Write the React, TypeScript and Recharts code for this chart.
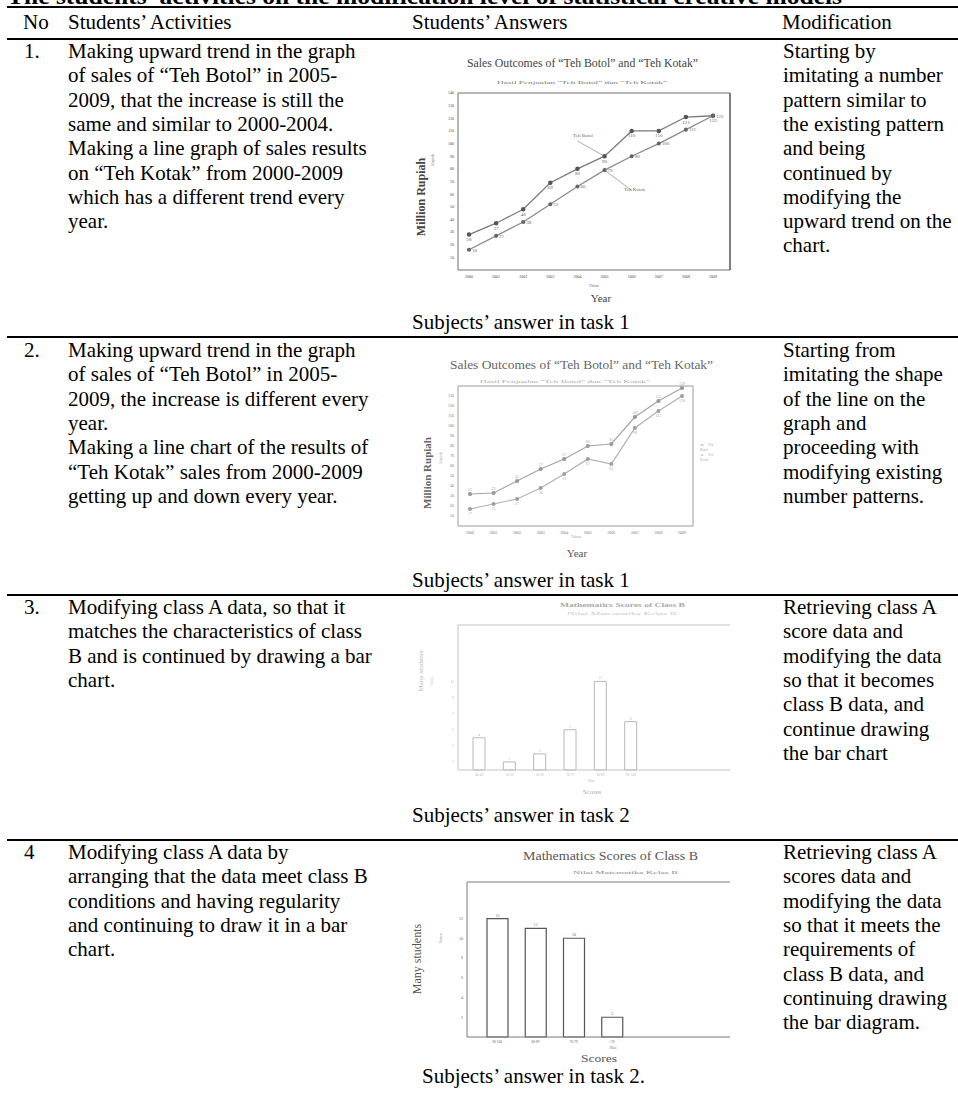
import React from "react";
import { LineChart, Line, BarChart, Bar, XAxis, YAxis, LabelList, Legend, ReferenceLine } from "recharts";

const years = ["2000", "2001", "2002", "2003", "2004", "2005", "2006", "2007", "2008", "2009"];
const task1Botol = [28, 37, 48, 69, 80, 90, 110, 110, 121, 122];
const task1Kotak = [16, 27, 38, 52, 66, 79, 90, 100, 111, 122];
const task2Botol = [32, 33, 45, 57, 67, 80, 82, 109, 125, 138];
const task2Kotak = [17, 22, 27, 38, 52, 67, 62, 98, 115, 130];
const salesTicks1 = [10, 20, 30, 40, 50, 60, 70, 80, 90, 100, 110, 120, 130, 140];
const salesTicks2 = [10, 20, 30, 40, 50, 60, 70, 80, 90, 100, 110, 120, 130];

const scoreRanges3 = ["40-49", "50-59", "60-69", "70-79", "80-89", "90-100"];
const classBCounts3 = [4, 1, 2, 5, 11, 6];
const countTicks3 = [0, 1, 2, 3, 4, 5, 6, 7, 8, 9, 10, 11];

const scoreRanges4 = ["90-100", "80-89", "70-79", "<70"];
const classBCounts4 = [12, 11, 10, 2];
const countTicks4 = [1, 2, 3, 4, 5, 6, 7, 8, 9, 10, 11, 12];

const headers = ["No", "Students’ Activities", "Students’ Answers", "Modification"];
const rowNumbers = ["1.", "2.", "3.", "4"];
const activities = [
  [
    "Making upward trend in the graph",
    "of sales of “Teh Botol” in 2005-",
    "2009, that the increase is still the",
    "same and similar to 2000-2004.",
    "Making a line graph of sales results",
    "on “Teh Kotak” from 2000-2009",
    "which has a different trend every",
    "year.",
  ],
  [
    "Making upward trend in the graph",
    "of sales of “Teh Botol” in 2005-",
    "2009, the increase is different every",
    "year.",
    "Making a line chart of the results of",
    "“Teh Kotak” sales from 2000-2009",
    "getting up and down every year.",
  ],
  [
    "Modifying class A data, so that it",
    "matches the characteristics of class",
    "B and is continued by drawing a bar",
    "chart.",
  ],
  [
    "Modifying class A data by",
    "arranging that the data meet class B",
    "conditions and having regularity",
    "and continuing to draw it in a bar",
    "chart.",
  ],
];
const modifications = [
  [
    "Starting by",
    "imitating a number",
    "pattern similar to",
    "the existing pattern",
    "and being",
    "continued by",
    "modifying the",
    "upward trend on the",
    "chart.",
  ],
  [
    "Starting from",
    "imitating the shape",
    "of the line on the",
    "graph and",
    "proceeding with",
    "modifying existing",
    "number patterns.",
  ],
  [
    "Retrieving class A",
    "score data and",
    "modifying the data",
    "so that it becomes",
    "class B data, and",
    "continue drawing",
    "the bar chart",
  ],
  [
    "Retrieving class A",
    "scores data and",
    "modifying the data",
    "so that it meets the",
    "requirements of",
    "class B data, and",
    "continuing drawing",
    "the bar diagram.",
  ],
];
const captions = [
  "Subjects’ answer in task 1",
  "Subjects’ answer in task 1",
  "Subjects’ answer in task 2",
  "Subjects’ answer in task 2.",
];

const SERIF = '"Liberation Serif", "Times New Roman", serif';

const sales1 = years.map((year, i) => ({ year, botol: task1Botol[i], kotak: task1Kotak[i] }));
const sales2 = years.map((year, i) => ({ year, botol: task2Botol[i], kotak: task2Kotak[i] }));
const scores3 = scoreRanges3.map((range, i) => ({ range, count: classBCounts3[i] }));
const scores4 = scoreRanges4.map((range, i) => ({ range, count: classBCounts4[i] }));

function SalesChart1() {
  const c = "#6e6e6e";
  return (
    <div style={{ position: "absolute", left: 405, top: 48 }}>
      <LineChart width={338} height={258} data={sales1} margin={{ top: 44, right: 12, bottom: 28, left: 45 }}>
        <XAxis dataKey="year" padding={{ left: 11, right: 17 }} interval={0} height={8} tickSize={3}
          tick={{ fontSize: 4, fill: "#444" }} tickLine={false} axisLine={{ stroke: c }} />
        <XAxis xAxisId="top" dataKey="year" orientation="top" height={1} tick={false} tickLine={false}
          axisLine={{ stroke: c }} />
        <YAxis domain={[0, 140]} ticks={salesTicks1} width={8} tickSize={2} tickLine={false}
          tick={{ fontSize: 4, fill: "#444" }} axisLine={{ stroke: c }} />
        <YAxis yAxisId="right" orientation="right" width={1} tick={false} tickLine={false}
          axisLine={{ stroke: "#555", strokeWidth: 1.5 }} />
        <ReferenceLine segment={[{ x: "2004", y: 102 }, { x: "2005", y: 90 }]} stroke="#888" strokeWidth={0.7} />
        <ReferenceLine segment={[{ x: "2005", y: 79 }, { x: "2006", y: 63 }]} stroke="#888" strokeWidth={0.7} />
        <Line dataKey="botol" stroke="#7a7a7a" strokeWidth={1.3} isAnimationActive={false}
          dot={{ r: 1.6, fill: "#555", stroke: "#555" }}>
          <LabelList dataKey="botol" position="bottom" offset={3} fontSize={5} fill="#666" />
        </Line>
        <Line dataKey="kotak" stroke="#8a8a8a" strokeWidth={1.3} isAnimationActive={false}
          dot={{ r: 1.4, fill: "#666", stroke: "#666" }}>
          <LabelList dataKey="kotak" position="right" offset={3} fontSize={5} fill="#666" />
        </Line>
      </LineChart>
    </div>
  );
}

function SalesChart2() {
  const c = "#9a9a9a";
  return (
    <div style={{ position: "absolute", left: 410, top: 341 }}>
      <LineChart width={320} height={230} data={sales2} margin={{ top: 44, right: 36, bottom: 37, left: 40 }}>
        <XAxis dataKey="year" padding={{ left: 12, right: 11 }} interval={0} height={8} tickSize={3}
          tick={{ fontSize: 4, fill: "#777" }} tickLine={false} axisLine={{ stroke: c }} />
        <XAxis xAxisId="top" dataKey="year" orientation="top" height={1} tick={false} tickLine={false}
          axisLine={{ stroke: c }} />
        <YAxis domain={[0, 140]} ticks={salesTicks2} width={8} tickSize={2} tickLine={false}
          tick={{ fontSize: 4, fill: "#777" }} axisLine={{ stroke: c }} />
        <YAxis yAxisId="right" orientation="right" width={1} tick={false} tickLine={false}
          axisLine={{ stroke: c }} />
        <Legend layout="vertical" align="center" verticalAlign="middle" iconSize={4}
          wrapperStyle={{ position: "absolute", left: 290, top: 102, width: 30, fontSize: 3.5, lineHeight: "5px" }} />
        <Line name="Teh Botol" dataKey="botol" stroke="#a5a5a5" strokeWidth={1.2} isAnimationActive={false}
          dot={{ r: 1.5, fill: "#999", stroke: "#999" }}>
          <LabelList dataKey="botol" position="top" offset={3} fontSize={4} fill="#aaa" />
        </Line>
        <Line name="Teh Kotak" dataKey="kotak" stroke="#b0b0b0" strokeWidth={1.2} isAnimationActive={false}
          dot={{ r: 1.4, fill: "#a0a0a0", stroke: "#a0a0a0" }}>
          <LabelList dataKey="kotak" position="bottom" offset={3} fontSize={4} fill="#aaa" />
        </Line>
      </LineChart>
    </div>
  );
}

function ScoresChart3() {
  const c = "#c4c4c4";
  return (
    <div style={{ position: "absolute", left: 405, top: 598, width: 325, overflow: "hidden" }}>
      <BarChart width={325} height={205} data={scores3} margin={{ top: 26, right: 0, bottom: 25, left: 45 }}>
        <XAxis dataKey="range" padding={{ left: 6, right: 84 }} interval={0} height={8} tickSize={2}
          tick={{ fontSize: 3.5, fill: "#bbb" }} tickLine={false} axisLine={{ stroke: c }} />
        <XAxis xAxisId="top" dataKey="range" orientation="top" height={1} tick={false} tickLine={false}
          axisLine={{ stroke: c }} padding={{ left: 6, right: 84 }} />
        <YAxis domain={[0, 18]} ticks={countTicks3} width={8} tickSize={2} tickLine={false}
          tick={{ fontSize: 4, fill: "#bbb" }} axisLine={{ stroke: c }} />
        <Bar dataKey="count" barSize={12} fill="#ffffff" stroke="#b8b8b8" strokeWidth={1} isAnimationActive={false}>
          <LabelList dataKey="count" position="top" offset={2} fontSize={4} fill="#bbb" />
        </Bar>
      </BarChart>
    </div>
  );
}

function ScoresChart4() {
  const c = "#7a7a7a";
  return (
    <div style={{ position: "absolute", left: 405, top: 848, width: 325, overflow: "hidden" }}>
      <BarChart width={325} height={220} data={scores4} margin={{ top: 33, right: 0, bottom: 23, left: 54 }}>
        <XAxis dataKey="range" padding={{ left: 11, right: 99 }} interval={0} height={8} tickSize={2}
          tick={{ fontSize: 3.5, fill: "#666" }} tickLine={false} axisLine={{ stroke: c }} />
        <XAxis xAxisId="top" dataKey="range" orientation="top" height={1} tick={false} tickLine={false}
          axisLine={{ stroke: c }} padding={{ left: 11, right: 99 }} />
        <YAxis domain={[0, 15.7]} ticks={countTicks4} width={8} tickSize={2} tickLine={false}
          tick={{ fontSize: 4, fill: "#666" }} axisLine={{ stroke: c }} />
        <Bar dataKey="count" barSize={21} fill="#ffffff" stroke="#555" strokeWidth={1.2} isAnimationActive={false}>
          <LabelList dataKey="count" position="top" offset={2} fontSize={4} fill="#666" />
        </Bar>
      </BarChart>
    </div>
  );
}

const rowTop = [58, 357, 614, 859];
const captionBaseline = [329, 587, 822, 1083];
const captionX = [412, 412, 412, 422];
const rules = [6, 38, 336, 594, 839];
const LH = 24.3;

function TableText() {
  return (
    <svg width={958} height={1102} style={{ position: "absolute", left: 0, top: 0, pointerEvents: "none" }}
      fontFamily={SERIF}>
      <text x={7} y={4} fontSize={23} fontWeight="bold" fill="#000" textLength={835} lengthAdjust="spacingAndGlyphs">
        The students’ activities on the modification level of statistical creative models
      </text>
      {rules.map((y) => (
        <rect key={y} x={7} y={y} width={951} height={2} fill="#000" />
      ))}
      {headers.map((h, i) => (
        <text key={h} x={[23, 68, 412, 782][i]} y={29} fontSize={21} fill="#000">{h}</text>
      ))}
      {rowNumbers.map((n, r) => (
        <g key={n}>
          <text x={24} y={rowTop[r]} fontSize={21}>{n}</text>
          {activities[r].map((line, i) => (
            <text key={i} x={68} y={rowTop[r] + i * LH} fontSize={21}>{line}</text>
          ))}
          {modifications[r].map((line, i) => (
            <text key={i} x={783} y={rowTop[r] + i * LH} fontSize={21}>{line}</text>
          ))}
          <text x={captionX[r]} y={captionBaseline[r]} fontSize={21}>{captions[r]}</text>
        </g>
      ))}

      {/* task 1 chart texts */}
      <text x={467} y={67} fontSize={12} textLength={231} lengthAdjust="spacingAndGlyphs" fill="#444">
        Sales Outcomes of “Teh Botol” and “Teh Kotak”
      </text>
      <text x={497} y={84} fontSize={4.5} textLength={170} lengthAdjust="spacingAndGlyphs" fill="#777">
        Hasil Penjualan “Teh Botol” dan “Teh Kotak”
      </text>
      <text transform="translate(425,197) rotate(-90)" textAnchor="middle" fontSize={12} fontWeight="bold"
        fill="#444">Million Rupiah</text>
      <text transform="translate(434,160) rotate(-90)" textAnchor="middle" fontSize={4} fill="#777">Rupiah</text>
      <text x={573} y={137} fontSize={5} fill="#666">Teh Botol</text>
      <text x={624} y={191} fontSize={5} fill="#666">Teh Kotak</text>
      <text x={594} y={287} textAnchor="middle" fontSize={4} fill="#777">Tahun</text>
      <text x={601} y={302} textAnchor="middle" fontSize={11} fill="#444">Year</text>

      {/* task 1 (second answer) chart texts */}
      <text x={450} y={369} fontSize={12} textLength={263} lengthAdjust="spacingAndGlyphs" fill="#666">
        Sales Outcomes of “Teh Botol” and “Teh Kotak”
      </text>
      <text x={480} y={383} fontSize={4.5} textLength={170} lengthAdjust="spacingAndGlyphs" fill="#aaa">
        Hasil Penjualan “Teh Botol” dan “Teh Kotak”
      </text>
      <text transform="translate(431,473) rotate(-90)" textAnchor="middle" fontSize={11} fontWeight="bold"
        fill="#666">Million Rupiah</text>
      <text transform="translate(442,458) rotate(-90)" textAnchor="middle" fontSize={4} fill="#aaa">Rupiah</text>
      <text x={576} y={538} textAnchor="middle" fontSize={4} fill="#aaa">Tahun</text>
      <text x={577} y={557} textAnchor="middle" fontSize={11} fill="#555">Year</text>

      {/* task 2 chart texts */}
      <text x={560} y={607} fontSize={7} fontWeight="bold" textLength={125} lengthAdjust="spacingAndGlyphs"
        fill="#a8a8a8">Mathematics Scores of Class B</text>
      <text x={567} y={615} fontSize={3.5} textLength={110} lengthAdjust="spacingAndGlyphs" fill="#c8c8c8">
        Nilai Matematika Kelas B
      </text>
      <text transform="translate(423,671) rotate(-90)" textAnchor="middle" fontSize={7} fill="#b5b5b5">
        Many students
      </text>
      <text transform="translate(433,681) rotate(-90)" textAnchor="middle" fontSize={3.5} fill="#c0c0c0">Siswa</text>
      <text x={591} y={782} textAnchor="middle" fontSize={3.5} fill="#bbb">Nilai</text>
      <text x={592} y={794} textAnchor="middle" fontSize={7} fill="#aaa">Scores</text>

      {/* task 2 (second answer) chart texts */}
      <text x={523} y={860} fontSize={13} textLength={175} lengthAdjust="spacingAndGlyphs" fill="#555">
        Mathematics Scores of Class B
      </text>
      <text x={573} y={874} fontSize={4} textLength={105} lengthAdjust="spacingAndGlyphs" fill="#888">
        Nilai Matematika Kelas B
      </text>
      <text transform="translate(421,959) rotate(-90)" textAnchor="middle" fontSize={12} fill="#555">
        Many students
      </text>
      <text transform="translate(442,938) rotate(-90)" textAnchor="middle" fontSize={4} fill="#777">Siswa</text>
      <text x={613} y={1049} textAnchor="middle" fontSize={3.5} fill="#777">Nilai</text>
      <text x={599} y={1062} textAnchor="middle" fontSize={11} textLength={36} lengthAdjust="spacingAndGlyphs"
        fill="#555">Scores</text>
    </svg>
  );
}

export default function App() {
  return (
    <div style={{ position: "absolute", left: 0, top: 0, width: 958, height: 1102, background: "#fff",
      overflow: "hidden", fontFamily: SERIF }}>
      <SalesChart1 />
      <SalesChart2 />
      <ScoresChart3 />
      <ScoresChart4 />
      <TableText />
    </div>
  );
}
